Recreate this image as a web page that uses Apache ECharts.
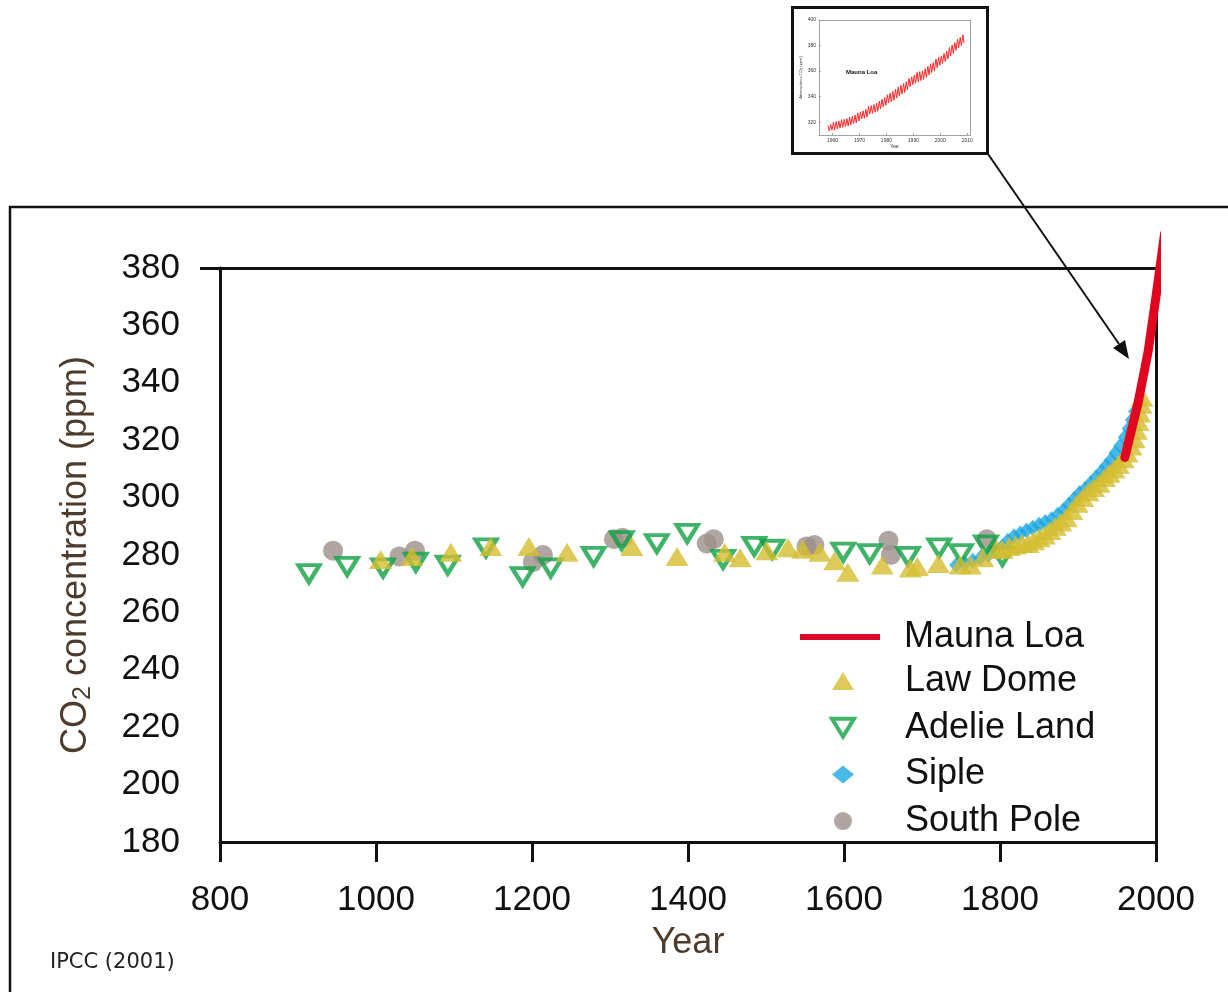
<!DOCTYPE html>
<html><head><meta charset="utf-8">
<script src="https://cdn.jsdelivr.net/npm/echarts@6/dist/echarts.min.js"></script>
<style>html,body{margin:0;padding:0;background:#fff}#c{width:1228px;height:992px}</style>
</head><body><div id="c"></div>
<script>
// ---------- data ----------
const maunaLoaYears  = [1960, 1977, 1990, 2000, 2011];
const maunaLoaValues = [314, 333, 351, 370, 392];

const lawDome = [
 [1006,278.4],[1046,279.5],[1096,281],[1147,283],[1196,283],[1245,281],[1328,283],[1386,279.5],
 [1447,281],[1467,279],[1501,281.5],[1528,282.5],[1547,282],[1569,281],[1588,278],[1605,274],
 [1649,276.5],[1685,275.5],[1694,276],[1721,277],[1749,276.5],[1762,276.5],[1778,279],[1796,282],
 [1803,282],[1812,283],[1820,283.5],[1828,284],[1836,284],[1843,285],[1850,286],[1857,287],
 [1864,288.5],[1871,290],[1878,291.5],[1885,293],[1892,295.5],[1899,298],[1906,300],[1913,302],
 [1920,303.5],[1927,305],[1934,307],[1940,308.5],[1946,310],[1952,311.5],[1958,313.5],[1963,315.5],
 [1968,318],[1972,320.5],[1975,323.5],[1977,326.5],[1979,329.5],[1981,332.5],[1982,335]
];
const adelieLand = [
 [914,273.5],[963,276],[1009,275.5],[1051,277.5],[1092,276.5],[1141,282.5],[1188,272.5],[1224,275.5],
 [1279,279.5],[1315,285],[1360,284],[1399,287.5],[1445,278.5],[1485,283],[1508,282],[1599,281],
 [1633,280.5],[1682,279.5],[1722,282.5],[1750,280.5],[1782,283.5],[1803,279.5]
];
const siple = [
 [1744,276.5],[1755,277],[1765,278],[1775,279],[1785,280],[1795,281.5],[1803,283],[1810,285],
 [1818,286.5],[1826,287.5],[1834,288.5],[1842,289.5],[1850,290.5],[1858,291.5],[1866,292.5],[1874,294],
 [1881,295.5],[1888,297.5],[1895,299.5],[1902,301.5],[1909,303],[1916,305],[1923,307],[1930,309],
 [1936,311],[1942,313],[1948,315.5],[1954,318],[1960,321],[1965,324],[1969,327],[1973,330]
];
const southPole = [
 [945,281.5],[1030,279.5],[1050,281.5],[1201,277.5],[1214,280],[1305,285.5],[1316,286],[1424,284],
 [1433,285.5],[1552,283],[1562,283.5],[1657,285],[1660,280],[1783,285.5]
];

// inset: Mauna Loa seasonal maxima / minima
const mlYears = [1958,1959,1960,1961,1962,1963,1964,1965,1966,1967,1968,1969,1970,1971,1972,1973,1974,
 1975,1976,1977,1978,1979,1980,1981,1982,1983,1984,1985,1986,1987,1988,1989,1990,1991,1992,1993,1994,
 1995,1996,1997,1998,1999,2000,2001,2002,2003,2004,2005,2006,2007,2008];
const mlPeaks = [317.5,318.3,320.0,320.6,321.0,322.0,322.3,322.8,324.1,324.6,325.7,327.3,328.1,328.9,330.1,
 332.5,333.0,333.9,334.9,336.6,338.0,339.4,341.5,342.9,344.1,345.8,347.4,348.9,350.4,351.8,354.2,355.6,
 357.0,359.0,359.6,360.2,361.9,363.6,365.7,366.7,369.5,371.0,371.8,373.8,375.6,378.5,380.5,382.3,384.9,
 386.4,388.5];
const mlTroughs = [313.3,313.8,313.8,314.8,315.4,316.0,316.5,317.0,318.0,319.0,319.4,321.0,322.5,323.1,324.0,
 326.3,327.0,327.8,328.5,330.3,332.0,333.2,335.0,336.0,337.2,339.0,340.5,342.0,343.2,345.2,347.8,349.4,
 350.5,351.6,352.6,353.5,355.1,357.0,358.9,360.0,362.7,364.5,366.0,367.6,369.5,371.8,373.8,376.3,378.3,
 380.0,381.9];
const insetXTicks = [1960,1970,1980,1990,2000,2010];
const insetYTicks = [320,340,360,380,400];

// ---------- build ----------
const mlMain = maunaLoaYears.map((y,i)=>[y, maunaLoaValues[i]]);
const mlInset = [];
mlYears.forEach((y,i)=>{ mlInset.push([y+0.38, mlPeaks[i]]); mlInset.push([y+0.8, mlTroughs[i]]); });

const FONT = 'Liberation Sans';
const BROWN = '#4e3b2b';
const GREEN = '#0fa142';
const plain = v => String(v);
const chart = echarts.init(document.getElementById('c'), null, {renderer:'canvas'});

const thin = {color:'#8a8a8a', width:0.8};
chart.setOption({
  animation:false,
  backgroundColor:'#fff',
  title:{text:'IPCC (2001)', left:50, top:952, padding:0, textStyle:{fontSize:21, fontWeight:'normal', fontFamily:'DejaVu Sans', color:'#222'}},
  grid:[
    {left:220, top:268, width:936, height:574, outerBoundsMode:'none', containLabel:false},
    {left:819, top:20, width:151, height:115, outerBoundsMode:'none', containLabel:false}
  ],
  xAxis:[
    {gridIndex:0, type:'value', min:800, max:2000, interval:200,
     axisLine:{show:true, onZero:false, lineStyle:{color:'#111', width:3}},
     axisTick:{show:true, length:20, lineStyle:{color:'#111', width:3}},
     axisLabel:{fontSize:35, color:'#111', fontFamily:FONT, margin:41, formatter:plain},
     splitLine:{show:false},
     name:'Year', nameLocation:'middle', nameGap:83,
     nameTextStyle:{fontSize:36, color:BROWN, fontFamily:FONT}},
    {gridIndex:0, type:'value', position:'top', min:800, max:2000,
     axisLine:{show:true, onZero:false, lineStyle:{color:'#111', width:3}},
     axisTick:{show:false}, axisLabel:{show:false}, splitLine:{show:false}},
    {gridIndex:1, type:'value', min:1955, max:2011,
     axisLine:{show:true, onZero:false, lineStyle:thin},
     axisTick:{show:true, inside:true, length:2, customValues:insetXTicks, lineStyle:thin},
     axisLabel:{fontSize:5, color:'#333', margin:3, customValues:insetXTicks, formatter:plain},
     splitLine:{show:false},
     name:'Year', nameLocation:'middle', nameGap:9, nameTextStyle:{fontSize:4.5, color:'#333'}},
    {gridIndex:1, type:'value', position:'top', min:1955, max:2011,
     axisLine:{show:true, onZero:false, lineStyle:thin},
     axisTick:{show:false}, axisLabel:{show:false}, splitLine:{show:false}}
  ],
  yAxis:[
    {gridIndex:0, type:'value', min:180, max:380, interval:20,
     axisLine:{show:true, onZero:false, lineStyle:{color:'#111', width:3}},
     axisTick:{show:true, length:20, customValues:[380], lineStyle:{color:'#111', width:3}},
     axisLabel:{fontSize:35, color:'#111', fontFamily:FONT, margin:40, formatter:plain},
     splitLine:{show:false},
     name:'{a|CO}{s|2}{a| concentration (ppm)}', nameLocation:'middle', nameGap:124,
     nameTextStyle:{rich:{
       a:{fontSize:36, color:BROWN, fontFamily:FONT, lineHeight:40},
       s:{fontSize:25, color:BROWN, fontFamily:FONT, lineHeight:22, verticalAlign:'bottom'}
     }}},
    {gridIndex:0, type:'value', position:'right', min:180, max:380,
     axisLine:{show:true, onZero:false, lineStyle:{color:'#111', width:3}},
     axisTick:{show:false}, axisLabel:{show:false}, splitLine:{show:false}},
    {gridIndex:1, type:'value', min:310, max:400,
     axisLine:{show:true, onZero:false, lineStyle:thin},
     axisTick:{show:true, inside:true, length:2, customValues:insetYTicks, lineStyle:thin},
     axisLabel:{fontSize:5, color:'#333', margin:3, customValues:insetYTicks, formatter:plain},
     splitLine:{show:false},
     name:'{a|Atmospheric CO}{s|2}{a| (ppm)}', nameLocation:'middle', nameGap:14,
     nameTextStyle:{rich:{a:{fontSize:4, color:'#333', lineHeight:5}, s:{fontSize:3, color:'#333', lineHeight:4, verticalAlign:'bottom'}}}},
    {gridIndex:1, type:'value', position:'right', min:310, max:400,
     axisLine:{show:true, onZero:false, lineStyle:thin},
     axisTick:{show:false}, axisLabel:{show:false}, splitLine:{show:false}}
  ],
  legend:[
    {data:[{name:'Mauna Loa', icon:'rect'}], orient:'vertical', left:800, top:617, padding:0,
     itemWidth:80, itemHeight:6, selectedMode:false,
     textStyle:{fontSize:36, color:'#111', fontFamily:FONT, lineHeight:40, padding:[0,0,0,19]}},
    {data:['Law Dome',
           {name:'Adelie Land', icon:'path://M0,0L22,0L11,18Z', itemStyle:{color:'rgba(255,255,255,0)', borderColor:GREEN, borderWidth:4}},
           'Siple','South Pole'],
     orient:'vertical', left:830, top:661, padding:0,
     itemWidth:22, itemHeight:18, itemGap:6.7, selectedMode:false,
     textStyle:{fontSize:36, color:'#111', fontFamily:FONT, lineHeight:40, padding:[0,0,0,46]}}
  ],
  series:[
    {name:'South Pole', type:'scatter', xAxisIndex:0, yAxisIndex:0, data:southPole,
     symbol:'circle', symbolSize:20, itemStyle:{color:'#9c908a'}, z:2, emphasis:{disabled:true}},
    {name:'Siple', type:'scatter', xAxisIndex:0, yAxisIndex:0, data:siple,
     symbol:'diamond', symbolSize:[14,16], itemStyle:{color:'#1ca7e2'}, z:3, emphasis:{disabled:true}},
    {name:'Adelie Land', type:'scatter', xAxisIndex:0, yAxisIndex:0, data:adelieLand,
     symbol:'triangle', symbolRotate:180, symbolSize:[21,17],
     itemStyle:{color:'rgba(255,255,255,0)', borderColor:GREEN, borderWidth:4.2}, z:4, emphasis:{disabled:true}},
    {name:'Law Dome', type:'scatter', xAxisIndex:0, yAxisIndex:0, data:lawDome,
     symbol:'triangle', symbolSize:[23,19], itemStyle:{color:'#d5bd30'}, z:5, emphasis:{disabled:true}},
    {name:'Mauna Loa', type:'line', xAxisIndex:0, yAxisIndex:0, data:mlMain, clip:false,
     symbol:'none', showSymbol:false, itemStyle:{color:'#dc0a2a'},
     lineStyle:{color:'#e0061f', width:9, cap:'round', join:'round'}, z:6, emphasis:{disabled:true}},
    {name:'Mauna Loa monthly', type:'line', xAxisIndex:2, yAxisIndex:2, data:mlInset,
     symbol:'none', showSymbol:false, lineStyle:{color:'#ff2a2a', width:1}, z:6, emphasis:{disabled:true}}
  ],
  graphic:[
    {type:'polyline', shape:{points:[[10,992],[10,207],[1228,207]]}, style:{stroke:'#111', lineWidth:2.5, fill:null}, z:1},
    {type:'rect', shape:{x:792.5, y:7.5, width:195, height:146}, style:{stroke:'#111', lineWidth:3, fill:null}, z:10},
    {type:'text', x:846, y:72, style:{text:'Mauna Loa', font:'bold 6px Liberation Sans', fill:'#111', verticalAlign:'middle'}, z:10},
    {type:'line', shape:{x1:988, y1:154, x2:1119, y2:344}, style:{stroke:'#111', lineWidth:2}, z:10},
    {type:'polygon', shape:{points:[[1129,359],[1113,348],[1125,340]]}, style:{fill:'#111'}, z:10}
  ]
});
</script></body></html>
